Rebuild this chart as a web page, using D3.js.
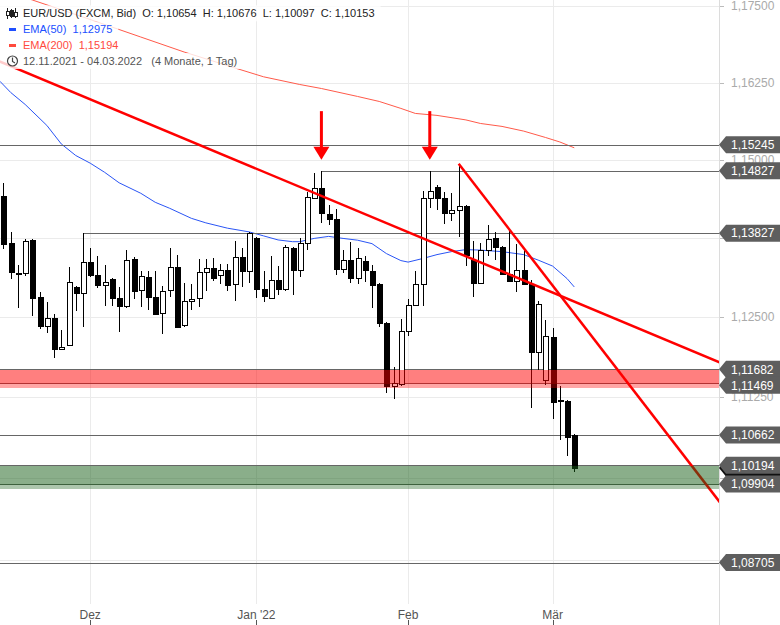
<!DOCTYPE html>
<html><head><meta charset="utf-8">
<script src="https://cdn.jsdelivr.net/npm/d3@7"></script>
<style>
body{margin:0;background:#fff;}
svg{display:block;font-family:"Liberation Sans",Arial,sans-serif;}
</style>
</head><body>
<svg id="c" width="780" height="625"></svg>
<script>
// ---------- DATA ----------
const firstDay = "2021-11-15", lastDay = "2022-03-04";
const opens  = [1.14424,1.13672,1.13194,1.13197,1.13713,1.12818,1.12359,1.1248,1.11995,1.12062,
                1.12976,1.12881,1.13371,1.13166,1.13008,1.13107,1.12807,1.12669,1.13419,1.12922,
                1.13134,1.12818,1.12565,1.12933,1.13292,1.1237,1.12754,1.12802,1.13213,1.13276,
                1.13166,1.1325,1.13023,1.1345,1.13223,1.13747,1.12944,1.12802,1.13091,1.12944,
                1.13593,1.13239,1.13677,1.14387,1.14547,1.14136,1.14051,1.13265,1.13408,1.13118,
                1.13392,1.13234,1.13028,1.12401,1.11425,1.11452,1.12286,1.12685,1.13023,1.14387,
                1.14563,1.14387,1.14152,1.14189,1.14264,1.13408,1.13039,1.13555,1.13747,1.13609,
                1.13186,1.13076,1.1325,1.13023,1.11948,1.11515,1.12183,1.11196,1.11193,1.10654];
const highs  = [1.14627,1.13848,1.13329,1.13731,1.1373,1.12897,1.12739,1.12553,1.12297,1.13292,
                1.1299,1.13827,1.13593,1.13471,1.13329,1.13123,1.12976,1.13555,1.1345,1.13234,
                1.13234,1.13234,1.12996,1.13593,1.13487,1.13039,1.13028,1.13419,1.13419,1.13435,
                1.13344,1.13344,1.13697,1.13593,1.13853,1.13773,1.13223,1.13471,1.13302,1.13645,
                1.13614,1.13747,1.14488,1.1479,1.14827,1.1428,1.14211,1.13566,1.13681,1.13593,
                1.1346,1.13329,1.1304,1.12417,1.11723,1.12464,1.12791,1.13234,1.14504,1.1482,
                1.146,1.14488,1.14467,1.14936,1.1428,1.13697,1.13672,1.1396,1.13853,1.1362,
                1.1388,1.13661,1.13566,1.1308,1.12748,1.12453,1.12323,1.11421,1.1121,1.10676];
const lows   = [1.13577,1.13107,1.12648,1.13155,1.12511,1.12308,1.12254,1.11863,1.11976,1.12055,
                1.1259,1.12348,1.1314,1.1296,1.12669,1.12669,1.1227,1.1265,1.12791,1.12653,
                1.12606,1.12538,1.12229,1.12811,1.12336,1.12348,1.12617,1.12659,1.12906,1.13064,
                1.13028,1.12906,1.12748,1.12976,1.13039,1.12802,1.12739,1.12786,1.12854,1.12906,
                1.12854,1.13134,1.13555,1.14371,1.13987,1.13952,1.13167,1.13197,1.13039,1.13028,
                1.13049,1.12644,1.12348,1.11316,1.11214,1.11421,1.12208,1.12669,1.12669,1.14227,
                1.142,1.13968,1.14029,1.13763,1.13302,1.12818,1.1303,1.1346,1.13397,1.1317,
                1.1305,1.1289,1.1301,1.11075,1.11671,1.11437,1.10905,1.10585,1.10337,1.10097];
const closes = [1.13661,1.13207,1.13178,1.13708,1.12802,1.12359,1.1248,1.11995,1.12035,1.13049,
                1.12881,1.13371,1.13159,1.13001,1.13055,1.12802,1.12669,1.13408,1.12906,1.13144,
                1.12818,1.12553,1.12913,1.13292,1.12348,1.12754,1.12786,1.13213,1.13276,1.13118,
                1.1325,1.13001,1.1345,1.13223,1.1383,1.12944,1.12827,1.13091,1.12944,1.13609,
                1.13239,1.13672,1.14403,1.14547,1.14147,1.14056,1.13261,1.134,1.13118,1.13435,
                1.13239,1.13001,1.12401,1.11421,1.11463,1.12286,1.12685,1.13023,1.14387,1.14493,
                1.14387,1.14147,1.14192,1.14253,1.13487,1.13039,1.13566,1.13731,1.13602,1.13186,
                1.13064,1.13239,1.13023,1.11948,1.12712,1.12203,1.11177,1.11185,1.10636,1.10153];

// EMA lines (candle index, price)
const ema50Idx = [-0.5,1,3,6,8,10,12,14,16,19,21,23,26,28,31,34,36,38,40,41,43,45,47,49,51,53,55,56,58,60,62,64,66,69,72,74,76,78,79];
const ema50    = [1.16271,1.16088,1.15894,1.15555,1.15256,1.1507,1.14947,1.148,1.14632,1.14464,1.1432,1.14224,1.14064,1.13992,1.13907,1.13848,1.13784,1.1372,1.13692,1.13692,1.13744,1.13776,1.13744,1.13716,1.13661,1.13503,1.13392,1.13368,1.13424,1.13487,1.13534,1.13566,1.13558,1.13534,1.13487,1.134,1.13305,1.13107,1.12975];
const ema200Idx = [0,4,11,19,25,32,36,41,44,49,52,55,57,60,64,66,69,72,75,77,79];
const ema200    = [1.17763,1.17599,1.1732,1.16992,1.16747,1.16488,1.16343,1.16218,1.16153,1.16024,1.15943,1.1583,1.15749,1.15717,1.15644,1.15587,1.15539,1.15463,1.15361,1.15288,1.15194];

// horizontal levels
const lineLevels = [1.15245, 1.14827, 1.13827, 1.10662, 1.08705];
const lineStartIdx = [-1, 44, 11, -1, -1];
const zoneTops    = [1.11682, 1.10194];
const zoneBottoms = [1.11469, 1.09904];
const zoneColors  = ["#ff0000", "#155d15"];

// trend lines (index, price)
const trendX1 = [-1, 63], trendP1 = [1.16616, 1.14936];
const trendX2 = [100, 100], trendP2 = [1.11749, 1.09504];

// arrows (index, tip price, tail price)
const arrowIdx = [44, 59], arrowTip = 1.15, arrowTail = 1.15786;

const yTicks = [1.0875,1.1,1.1125,1.125,1.1375,1.15,1.1625,1.175];
const monthLabels = ["Dez","Jan '22","Feb","Mär"];

// ---------- SETUP ----------
const dates = [];
for (let d = new Date(firstDay+"T00:00:00Z"); d <= new Date(lastDay+"T00:00:00Z"); d.setUTCDate(d.getUTCDate()+1)) {
  if (d.getUTCDay() !== 0 && d.getUTCDay() !== 6) dates.push(new Date(d));
}
const W = 780, H = 625, plotR = 719;
const svg = d3.select("#c");
const x = d3.scaleLinear().domain([-0.484, 99.03]).range([0, plotR]);
const y = d3.scaleLog().domain([1.0776, 1.17599]).range([H, 0]);
const fmt = v => v.toFixed(5).replace(".", ",");

svg.append("defs").append("clipPath").attr("id","plot")
  .append("rect").attr("x",0).attr("y",0).attr("width",plotR).attr("height",H);

const g = svg.append("g").attr("clip-path","url(#plot)");

// grid
g.append("g").selectAll("line").data(yTicks).join("line")
  .attr("x1",0).attr("x2",plotR)
  .attr("y1",d=>Math.round(y(d))+0.5).attr("y2",d=>Math.round(y(d))+0.5)
  .attr("stroke","#ebebeb");
const monthIdx = [];
dates.forEach((d,i)=>{ if (i>0 && d.getUTCMonth()!==dates[i-1].getUTCMonth()) monthIdx.push(i); });
g.append("g").selectAll("line").data(monthIdx).join("line")
  .attr("x1",d=>Math.round(x(d))+0.5).attr("x2",d=>Math.round(x(d))+0.5)
  .attr("y1",0).attr("y2",604).attr("stroke","#ebebeb");

// EMAs
const lineGen = (idx) => d3.line().x((d,i)=>x(idx[i])).y(d=>y(d));
g.append("path").datum(ema200).attr("d", lineGen(ema200Idx))
  .attr("fill","none").attr("stroke","#ff5a4a").attr("stroke-width",1);
g.append("path").datum(ema50).attr("d", lineGen(ema50Idx))
  .attr("fill","none").attr("stroke","#2a55f5").attr("stroke-width",1);

// level lines
g.append("g").selectAll("line").data(lineLevels).join("line")
  .attr("x1",(d,i)=>lineStartIdx[i] < 0 ? 0 : x(lineStartIdx[i]))
  .attr("x2",plotR)
  .attr("y1",d=>Math.round(y(d))+0.5).attr("y2",d=>Math.round(y(d))+0.5)
  .attr("stroke","#666").attr("stroke-width",1);
const zoneEdges = zoneTops.concat(zoneBottoms);
g.append("g").selectAll("line").data(zoneEdges).join("line")
  .attr("x1",0).attr("x2",plotR)
  .attr("y1",d=>Math.round(y(d))+0.5).attr("y2",d=>Math.round(y(d))+0.5)
  .attr("stroke","#666").attr("stroke-width",1);

// candles
const cg = g.append("g").attr("shape-rendering","crispEdges");
const idx = d3.range(closes.length);
cg.selectAll("line").data(idx).join("line")
  .attr("x1",i=>Math.round(x(i))+0.5).attr("x2",i=>Math.round(x(i))+0.5)
  .attr("y1",i=>y(highs[i])).attr("y2",i=>y(lows[i]))
  .attr("stroke","#000");
cg.selectAll("rect").data(idx).join("rect")
  .attr("x",i=>Math.round(x(i))-2)
  .attr("width",5)
  .attr("y",i=>Math.round(y(Math.max(opens[i],closes[i]))))
  .attr("height",i=>Math.max(1, Math.round(y(Math.min(opens[i],closes[i]))) - Math.round(y(Math.max(opens[i],closes[i])))))
  .attr("fill",i=>closes[i] >= opens[i] ? "#fff" : "#000")
  .attr("stroke","#000");

// trend lines
g.append("g").selectAll("line").data(trendX1).join("line")
  .attr("x1",(d,i)=>x(trendX1[i])).attr("y1",(d,i)=>y(trendP1[i]))
  .attr("x2",(d,i)=>x(trendX2[i])).attr("y2",(d,i)=>y(trendP2[i]))
  .attr("stroke","#ff0000").attr("stroke-width",2.5);

// arrows
const ag = g.append("g");
arrowIdx.forEach(i=>{
  const cx = x(i), tip = y(arrowTip), tail = y(arrowTail);
  ag.append("line").attr("x1",cx).attr("x2",cx).attr("y1",tail).attr("y2",tip-12)
    .attr("stroke","#ff0000").attr("stroke-width",3);
  ag.append("path").attr("d",`M${cx-8},${tip-13}L${cx+8},${tip-13}L${cx},${tip}Z`).attr("fill","#ff0000");
});

// zones (drawn over candles)
zoneTops.forEach((t,i)=>{
  const yt = Math.round(y(t))+1, yb = Math.round(y(zoneBottoms[i]))+1;
  g.append("rect").attr("x",0).attr("width",plotR).attr("y",yt).attr("height",yb-yt+4)
    .attr("fill",zoneColors[i]).attr("fill-opacity",0.35);
  g.append("rect").attr("x",0).attr("width",plotR).attr("y",yt).attr("height",yb-yt)
    .attr("fill",zoneColors[i]).attr("fill-opacity",0.23);
});

// ---------- LEGEND ----------
const last = closes.length-1;
const lg = svg.append("g");
const rows = [
  {text:`EUR/USD (FXCM, Bid)  O: ${fmt(opens[last])}  H: ${fmt(highs[last])}  L: ${fmt(lows[last])}  C: ${fmt(closes[last])}`, color:"#222"},
  {text:`EMA(50)  ${fmt(ema50[ema50.length-1])}`, color:"#2050ff"},
  {text:`EMA(200)  ${fmt(ema200[ema200.length-1])}`, color:"#ff4a3d"},
  {text:`12.11.2021 - 04.03.2022   (4 Monate, 1 Tag)`, color:"#555"}
];
const rowC = [13.3, 29.3, 45, 61];
rows.forEach((r,k)=>{
  const bg = lg.append("rect");
  const t = lg.append("text").attr("x",23).attr("y",rowC[k]+4).attr("font-size",11)
    .attr("fill",r.color).style("white-space","pre").text(r.text);
  const w = t.node().getComputedTextLength();
  bg.attr("x",0).attr("y",rowC[k]-8).attr("width",23+w+6).attr("height",16)
    .attr("fill","#fff").attr("fill-opacity",0.8);
});
// icons
const ic = lg.append("g").attr("shape-rendering","crispEdges");
[[7,8,19,11,15,false],[11,9,18,10,16,true],[15,8,18,12,16,false]].forEach(a=>{
  ic.append("line").attr("x1",a[0]+0.5).attr("x2",a[0]+0.5).attr("y1",a[1]).attr("y2",a[2]).attr("stroke","#222");
  ic.append("rect").attr("x",a[0]-1).attr("y",a[3]).attr("width",3).attr("height",a[4]-a[3])
    .attr("fill",a[5]?"#222":"#fff").attr("stroke","#222");
});
lg.append("rect").attr("x",9).attr("y",28).attr("width",7).attr("height",3).attr("fill","#1f4fff");
lg.append("rect").attr("x",9).attr("y",44).attr("width",7).attr("height",3).attr("fill","#ff4a3d");
lg.append("circle").attr("cx",12.5).attr("cy",61).attr("r",5).attr("fill","none").attr("stroke","#444").attr("stroke-width",1.2);
lg.append("path").attr("d","M12.5,57.5V61.5L15,63").attr("fill","none").attr("stroke","#444").attr("stroke-width",1.2);

// ---------- AXES ----------
const tagVals = lineLevels.concat(zoneEdges).sort((a,b)=>b-a);
let prev = -100;
const tagPos = tagVals.map(v=>{ let yy = y(v); if (yy < prev+16) yy = prev+16; prev = yy; return yy; });
// tick labels fully hidden behind a price tag are not drawn
const shownTicks = yTicks.filter(t => !tagPos.some(p => Math.abs(p - y(t)) < 8));

svg.append("line").attr("x1",plotR+0.5).attr("x2",plotR+0.5).attr("y1",0).attr("y2",H).attr("stroke","#dcdcdc");
const ya = svg.append("g");
ya.selectAll("line").data(yTicks).join("line")
  .attr("x1",plotR+1).attr("x2",plotR+5)
  .attr("y1",d=>Math.round(y(d))+0.5).attr("y2",d=>Math.round(y(d))+0.5).attr("stroke","#bbb");
ya.selectAll("text").data(shownTicks).join("text")
  .attr("x",731).attr("y",d=>y(d)+4).attr("font-size",12).attr("fill","#aaa").text(fmt);

const xa = svg.append("g");
xa.selectAll("text").data(monthIdx).join("text")
  .attr("x",d=>x(d)).attr("y",619).attr("text-anchor","middle").attr("font-size",12).attr("fill","#555")
  .text((d,i)=>monthLabels[i]);
xa.selectAll("line").data(monthIdx).join("line")
  .attr("x1",d=>Math.round(x(d))+0.5).attr("x2",d=>Math.round(x(d))+0.5)
  .attr("y1",620).attr("y2",625).attr("stroke","#555");

// price tags
const tagPath = yy => `M${plotR},${yy}L${plotR+7},${yy-8.5}L${W},${yy-8.5}L${W},${yy+8.5}L${plotR+7},${yy+8.5}Z`;
// current price marker (behind)
svg.append("path").attr("d",tagPath(y(closes[last]))).attr("fill","#111");
const tg = svg.append("g");
tagVals.forEach((v,i)=>{
  tg.append("path").attr("d",tagPath(tagPos[i])).attr("fill","#5e5e5e");
  tg.append("text").attr("x",731).attr("y",tagPos[i]+4.3).attr("font-size",12).attr("fill","#fff").text(fmt(v));
});
</script>
</body></html>
